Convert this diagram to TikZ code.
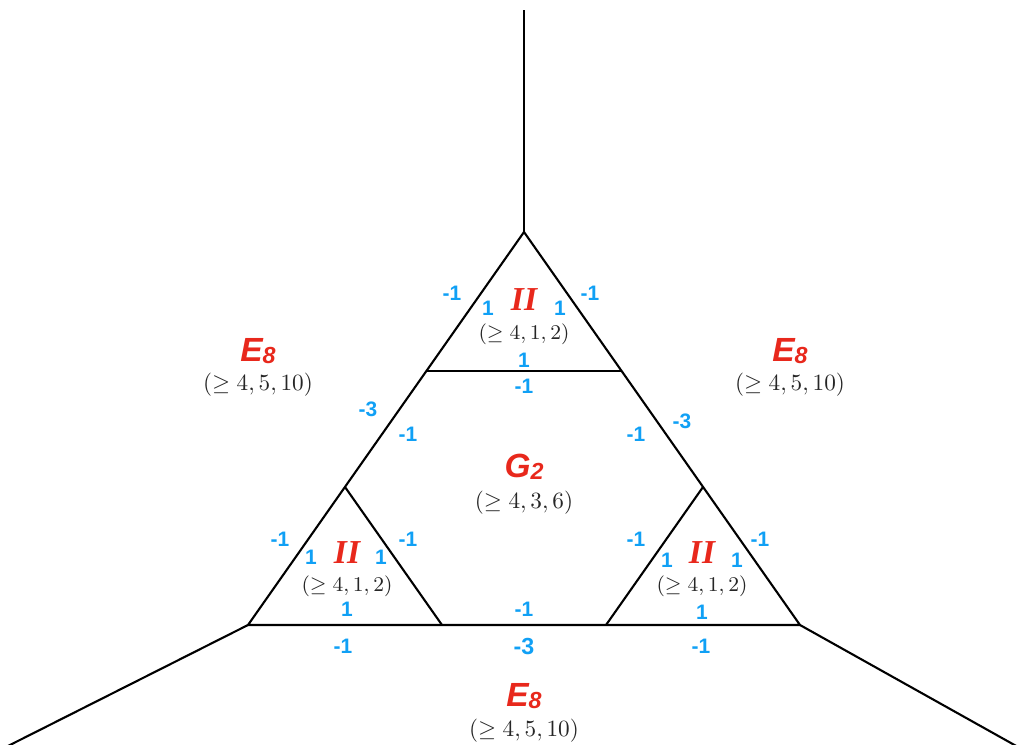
\documentclass[tikz,border=0pt]{standalone}
\usepackage{fontspec}
\newfontfamily\labelsans{Liberation Sans}
\newfontfamily\labelserif{Liberation Serif}
\definecolor{algred}{RGB}{232,40,28}
\definecolor{numblue}{RGB}{16,160,245}
\tikzset{
  edge/.style={line width=0.9pt},
  algname/.style={text=algred, inner sep=1pt, font=\labelsans\bfseries\itshape\Large},
  iiname/.style={text=algred, inner sep=0pt, text depth=0pt, font=\labelserif\bfseries\itshape\Large},
  tuple/.style={text=black!85, inner sep=1pt, font=\normalsize},
  smalltuple/.style={text=black!85, inner sep=0pt, font=\small},
  selfint/.style={text=numblue, inner sep=0.5pt, font=\labelsans\bfseries\small},
}
\newcommand{\Eeight}{E\raisebox{-0.12ex}{\normalsize 8}}
\newcommand{\Gtwo}{G\raisebox{-0.12ex}{\normalsize 2}}
\begin{document}
\begin{tikzpicture}[x=0.43pt, y=-0.43pt]
  \useasboundingbox (0,0) rectangle (1027,744);
  % vertices of the big triangle
  \coordinate (T) at (524,232);
  \coordinate (L) at (248,625);
  \coordinate (R) at (800,625);
  % corners of the three small triangles
  \coordinate (TL) at (426.4,371);
  \coordinate (TR) at (621.6,371);
  \coordinate (LA) at (345,487);
  \coordinate (LB) at (442,625);
  \coordinate (RA) at (703,487);
  \coordinate (RB) at (606,625);
  % outer legs
  \coordinate (up) at (524,10);
  \coordinate (downL) at (0,750);
  \coordinate (downR) at (1027,752);

  \draw[edge] (up) -- (T);
  \draw[edge] (L) -- (downL);
  \draw[edge] (R) -- (downR);
  \draw[edge] (T) -- (L) -- (R) -- cycle;
  \draw[edge] (TL) -- (TR);
  \draw[edge] (LA) -- (LB);
  \draw[edge] (RA) -- (RB);

  % top small triangle
  \node[iiname] (iiT) at (524,300) {II};
  \node[smalltuple] (tupT) at (524,334) {$(\geq 4,1,2)$};
  \node[selfint] at (488,308) {1};
  \node[selfint] at (560,308) {1};
  \node[selfint] at (452,293) {-1};
  \node[selfint] at (590,293) {-1};
  \node[selfint] at (524,360) {1};
  \node[selfint] at (524,386) {-1};

  % outer E8 regions
  \node[algname] (eL) at (258,351) {\Eeight};
  \node[tuple] (tupL) at (258,385) {$(\geq 4,5,10)$};
  \node[algname] (eR) at (790,351) {\Eeight};
  \node[tuple] (tupR) at (790,385) {$(\geq 4,5,10)$};
  \node[algname] (eB) at (524,696) {\Eeight};
  \node[tuple] (tupB) at (524,731) {$(\geq 4,5,10)$};

  % middle G2 region
  \node[algname] (g) at (524,467) {\Gtwo};
  \node[tuple] (tupG) at (524,503) {$(\geq 4,3,6)$};
  \node[selfint] at (368,409) {-3};
  \node[selfint] at (408,434) {-1};
  \node[selfint] at (682,421) {-3};
  \node[selfint] at (636,434) {-1};
  \node[selfint] at (524,609) {-1};
  \node[selfint, font=\labelsans\bfseries\normalsize] at (524,646) {-3};

  % bottom left small triangle
  \node[iiname] (iiL) at (347,553) {II};
  \node[smalltuple] (tupBL) at (347,586) {$(\geq 4,1,2)$};
  \node[selfint] at (280,539) {-1};
  \node[selfint] at (408,539) {-1};
  \node[selfint] at (311,557) {1};
  \node[selfint] at (381,557) {1};
  \node[selfint] at (347,609) {1};
  \node[selfint] at (343,646) {-1};

  % bottom right small triangle
  \node[iiname] (iiR) at (702,553) {II};
  \node[smalltuple] (tupBR) at (702,586) {$(\geq 4,1,2)$};
  \node[selfint] at (636,539) {-1};
  \node[selfint] at (760,539) {-1};
  \node[selfint] at (667,560) {1};
  \node[selfint] at (737,560) {1};
  \node[selfint] at (702,612) {1};
  \node[selfint] at (701,646) {-1};
\end{tikzpicture}
\end{document}
